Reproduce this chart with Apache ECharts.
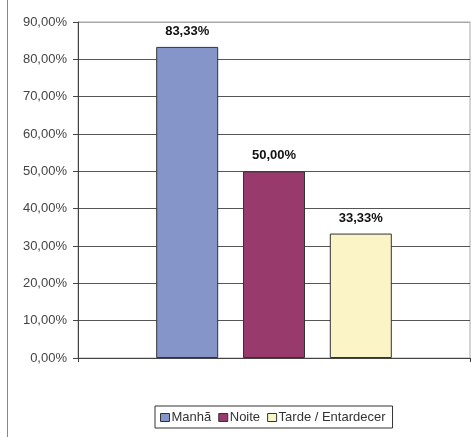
<!DOCTYPE html>
<html>
<head>
<meta charset="utf-8">
<script src="https://cdn.jsdelivr.net/npm/echarts@6/dist/echarts.min.js"></script>
<style>
  html, body { margin: 0; padding: 0; background: #fff; }
  #chart { width: 471px; height: 437px; }
</style>
</head>
<body>
<div id="chart"></div>
<script>
// Periods of the day and their shares (percent)
const seriesNames = ['Manhã', 'Noite', 'Tarde / Entardecer'];
const seriesValues = [83.33, 50.00, 33.33];
const seriesColors = ['#8595C9', '#983A6B', '#FAF4C6'];
const categories = [''];
const yMin = 0, yMax = 90, yStep = 10;

const fmtPct = v => v.toFixed(2).replace('.', ',') + '%';

// Split line colours: darker inside, lighter at the top border
const splitColors = [];
for (let v = yMin; v <= yMax; v += yStep) splitColors.push(v === yMax ? '#A8A8A8' : '#555');

const chart = echarts.init(document.getElementById('chart'));
chart.setOption({
  animation: false,
  textStyle: { fontFamily: 'Liberation Sans, Arial, sans-serif' },
  grid: {
    left: 78, top: 22, right: 1, bottom: 79,
    show: true, borderColor: '#A8A8A8', borderWidth: 1, backgroundColor: '#fff'
  },
  legend: {
    top: 406,
    left: 155,
    itemWidth: 9, itemHeight: 8, itemGap: 7,
    icon: 'rect',
    padding: [5, 7, 4, 5],
    borderColor: '#333', borderWidth: 1,
    itemStyle: { borderColor: '#333', borderWidth: 1 },
    textStyle: { fontSize: 13, color: '#333', padding: [0, 0, 0, -3] },
    data: seriesNames
  },
  xAxis: {
    type: 'category',
    data: categories,
    axisLine: { lineStyle: { color: '#444' } },
    axisTick: { show: true, length: 4, lineStyle: { color: '#444' } },
    axisLabel: { show: false }
  },
  yAxis: {
    type: 'value',
    min: yMin, max: yMax, interval: yStep,
    axisLine: { show: true, lineStyle: { color: '#444' } },
    axisTick: { show: true, length: 5, lineStyle: { color: '#444' } },
    axisLabel: { formatter: fmtPct, fontSize: 13, color: '#444', margin: 11 },
    splitLine: { show: true, lineStyle: { color: splitColors } }
  },
  series: seriesNames.map((name, i) => ({
    name,
    type: 'bar',
    data: [seriesValues[i]],
    barWidth: 62,
    barGap: '40%',
    itemStyle: { color: seriesColors[i], borderColor: '#333', borderWidth: 1 },
    label: {
      show: true, position: 'top', distance: 9,
      formatter: p => fmtPct(p.value),
      fontSize: 13, fontWeight: 'bold', color: '#111'
    }
  })),
  graphic: [{
    type: 'line',
    shape: { x1: 7.5, y1: 0, x2: 7.5, y2: 437 },
    style: { stroke: '#888', lineWidth: 1 }
  }]
});
</script>
</body>
</html>
